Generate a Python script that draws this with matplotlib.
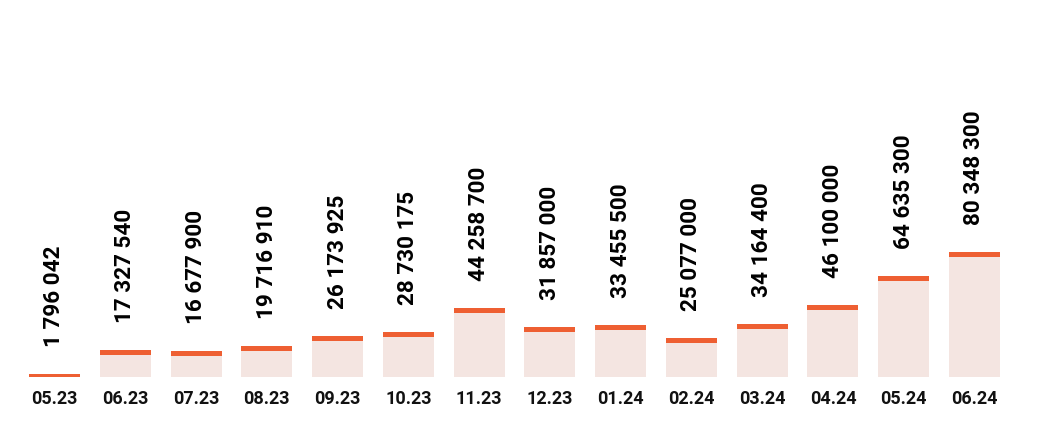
import matplotlib
matplotlib.use("Agg")
import matplotlib.pyplot as plt
from matplotlib.transforms import offset_copy

categories = ["05.23", "06.23", "07.23", "08.23", "09.23", "10.23", "11.23",
              "12.23", "01.24", "02.24", "03.24", "04.24", "05.24", "06.24"]
values = [1796042, 17327540, 16677900, 19716910, 26173925, 28730175, 44258700,
          31857000, 33455500, 25077000, 34164400, 46100000, 64635300, 80348300]

def fmt(v):
    return f"{v:,}".replace(",", " ")

plt.rcParams['font.family'] = ['Roboto', 'DejaVu Sans']

fig = plt.figure(figsize=(10.41, 4.39), dpi=100)
ax = fig.add_axes([0, 61 / 439, 1, 378 / 439])
x = list(range(len(categories)))
fill_col = "#F4E5E1"
cap_col = "#EE5F32"
px_per_unit = 125 / 80348300
cap = 5 / px_per_unit

ax.bar(x, values, width=0.72, color=fill_col, linewidth=0)
ax.bar(x, [cap] * len(values), bottom=[v - cap for v in values], width=0.72,
       color=cap_col, linewidth=0)

for xi, v in zip(x, values):
    tr = offset_copy(ax.transData, fig=fig, x=0, y=28 * 72 / 100, units='points')
    ax.text(xi, v, fmt(v), rotation=90, ha='center', va='bottom',
            fontsize=16.2, fontweight='bold', color='black', transform=tr)

ax.set_xlim(-0.77, 13.94)
ax.set_ylim(0, 378 / px_per_unit)
ax.set_xticks(x)
ax.set_xticklabels(categories, fontsize=13, fontweight='bold', color='#111111')
ax.tick_params(axis='x', length=0, pad=9)
ax.set_yticks([])
for s in ax.spines.values():
    s.set_visible(False)

fig.savefig("out.png", dpi=100)
